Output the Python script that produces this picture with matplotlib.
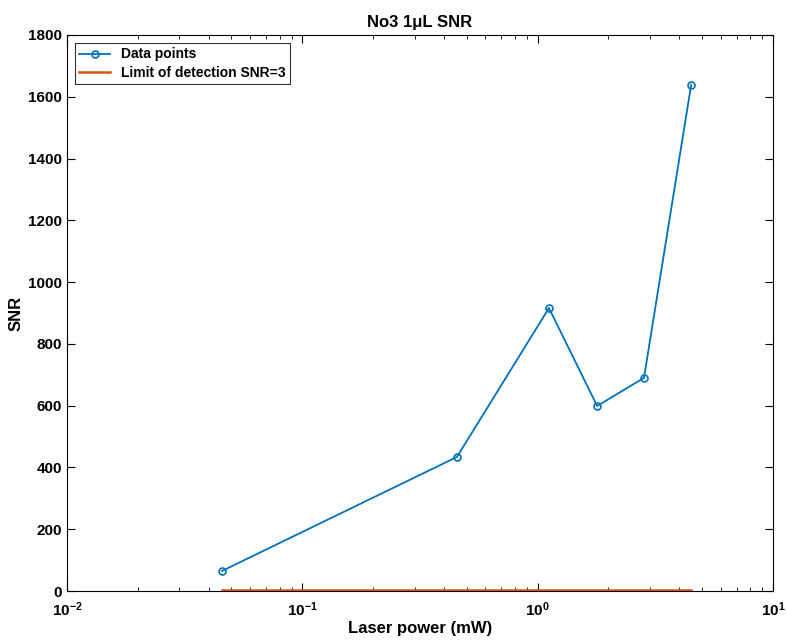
import matplotlib
matplotlib.use("Agg")
import matplotlib.pyplot as plt
from matplotlib.ticker import LogLocator, NullFormatter, FuncFormatter
import math

plt.rcParams['font.family'] = ['Liberation Sans', 'DejaVu Sans']
plt.rcParams['font.weight'] = 'bold'
plt.rcParams['mathtext.fontset'] = 'custom'
plt.rcParams['mathtext.rm'] = 'Liberation Sans:bold'
plt.rcParams['mathtext.bf'] = 'Liberation Sans:bold'
plt.rcParams['mathtext.default'] = 'bf'

power_mw = [0.0456, 0.454, 1.117, 1.79, 2.83, 4.49]
snr = [65, 434, 916, 599, 690, 1638]
lod_value = 3

fig = plt.figure(figsize=(7.87, 6.41), dpi=100)
ax = fig.add_axes([0.0851, 0.078, 0.8971, 0.8674])

ax.plot(power_mw, snr, '-o', color='#0072BD', linewidth=1.3, markersize=5,
        markerfacecolor='none', markeredgewidth=1.2, label='Data points')
ax.plot(power_mw, [lod_value] * len(power_mw), '-', color='#D95319', linewidth=1.8,
        label='Limit of detection SNR=3')

ax.set_xscale('log')
ax.set_xlim(1e-2, 1e1)
ax.set_ylim(0, 1800)
ax.set_yticks(range(0, 1801, 200))
ax.xaxis.set_major_formatter(FuncFormatter(lambda v, p: r'$10^{%d}$' % round(math.log10(v))))
ax.xaxis.set_minor_locator(LogLocator(base=10, subs=range(2, 10)))
ax.xaxis.set_minor_formatter(NullFormatter())
ax.tick_params(which='both', direction='in', top=True, right=True, labelsize=11)
ax.tick_params(axis='x', which='major', pad=7)
ax.tick_params(which='major', length=6)
ax.tick_params(which='minor', length=3)
for s in ax.spines.values():
    s.set_linewidth(0.8)

ax.set_xlabel('Laser power (mW)', fontsize=12, fontweight='bold', labelpad=1)
ax.set_ylabel('SNR', fontsize=12, fontweight='bold', labelpad=3)
ax.set_title('No3 1μL SNR', fontsize=12, fontweight='bold')

leg = ax.legend(loc='upper left', fontsize=10, frameon=True, fancybox=False,
                edgecolor='black', borderpad=0.3, handlelength=2.2, borderaxespad=0.6,
                labelspacing=0.3)
leg.get_frame().set_linewidth(0.8)

fig.savefig('out.png', dpi=100)
